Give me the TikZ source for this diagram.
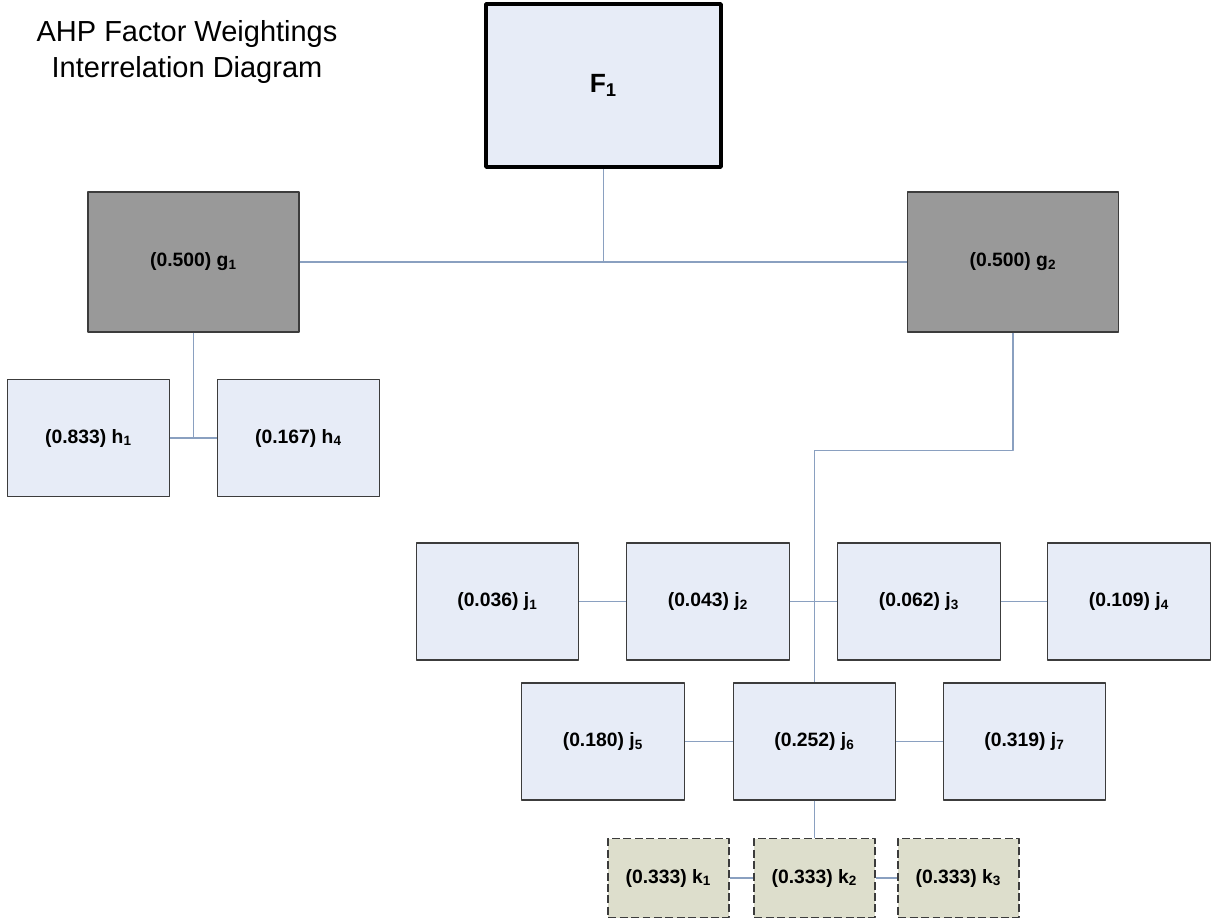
\documentclass[tikz,border=0pt]{standalone}
\usepackage{fontspec}
\setmainfont{Liberation Sans}
\definecolor{boxfill}{RGB}{231,236,247}
\definecolor{gfill}{RGB}{153,153,153}
\definecolor{kfill}{RGB}{221,222,204}
\definecolor{linkcol}{RGB}{138,160,192}
\definecolor{edgecol}{RGB}{60,60,60}
\newcommand{\wt}[3]{(#1) #2\textsubscript{#3}}

\begin{document}
\begin{tikzpicture}[line join=round,x=0.02cm,y=-0.02cm,
	topbox/.style={draw=black,line width=2pt,fill=boxfill,minimum width=4.7cm,minimum height=3.26cm,inner sep=0pt,font=\fontsize{15}{17}\selectfont\bfseries},
	gbox/.style={draw=edgecol,line width=0.7pt,fill=gfill,minimum width=4.22cm,minimum height=2.8cm,inner sep=0pt,font=\fontsize{11}{13}\selectfont\bfseries},
	wbox/.style={draw=edgecol,line width=0.7pt,fill=boxfill,minimum width=3.25cm,minimum height=2.34cm,inner sep=0pt,font=\fontsize{11}{13}\selectfont\bfseries},
	kbox/.style={draw=edgecol,line width=1.1pt,dash pattern=on 4.5pt off 2pt,fill=kfill,minimum width=2.41cm,minimum height=1.58cm,inner sep=0pt,font=\fontsize{11}{13}\selectfont\bfseries},
	link/.style={draw=linkcol,line width=0.8pt}]
	\useasboundingbox (0,0) rectangle (1211,921);
	\node[align=center,font=\fontsize{16.5}{20}\selectfont] (title) at (187,52) {AHP Factor Weightings\\Interrelation Diagram};
	\node[topbox] (F1) at (603.5,85.5) {F\textsubscript{1}};
	\node[gbox] (g1) at (193.5,262) {\wt{0.500}{g}{1}};
	\node[gbox] (g2) at (1013,262) {\wt{0.500}{g}{2}};
	\node[wbox] (h1) at (88.5,438) {\wt{0.833}{h}{1}};
	\node[wbox] (h4) at (298.5,438) {\wt{0.167}{h}{4}};
	\node[wbox] (j1) at (497.5,601.5) {\wt{0.036}{j}{1}};
	\node[wbox] (j2) at (708,601.5) {\wt{0.043}{j}{2}};
	\node[wbox] (j3) at (919,601.5) {\wt{0.062}{j}{3}};
	\node[wbox] (j4) at (1129,601.5) {\wt{0.109}{j}{4}};
	\node[wbox] (j5) at (603,741.5) {\wt{0.180}{j}{5}};
	\node[wbox] (j6) at (814.5,741.5) {\wt{0.252}{j}{6}};
	\node[wbox] (j7) at (1024.5,741.5) {\wt{0.319}{j}{7}};
	\node[kbox] (k1) at (668.5,878) {\wt{0.333}{k}{1}};
	\node[kbox] (k2) at (814.5,878) {\wt{0.333}{k}{2}};
	\node[kbox] (k3) at (958.5,878) {\wt{0.333}{k}{3}};
	\draw[link] (F1.south) -- (F1.south |- g1.east);
	\draw[link] (g1.east) -- (g2.west);
	\draw[link] (g1.south) -- (g1.south |- h1.east);
	\draw[link] (h1.east) -- (h4.west);
	\draw[link] (g2.south) -- ++(0,118) -| (j6.north);
	\draw[link] (j1.east) -- (j2.west);
	\draw[link] (j2.east) -- (j3.west);
	\draw[link] (j3.east) -- (j4.west);
	\draw[link] (j5.east) -- (j6.west);
	\draw[link] (j6.east) -- (j7.west);
	\draw[link] (j6.south) -- (k2.north);
	\draw[link] (k1.east) -- (k2.west);
	\draw[link] (k2.east) -- (k3.west);
\end{tikzpicture}
\end{document}
